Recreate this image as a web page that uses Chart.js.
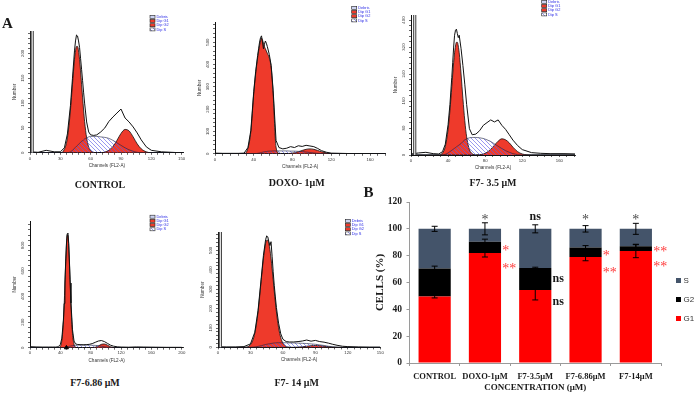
<!DOCTYPE html>
<html>
<head>
<meta charset="utf-8">
<script src="https://cdn.jsdelivr.net/npm/chart.js@4.4.0/dist/chart.umd.min.js"></script>
<style>
html,body{margin:0;padding:0;background:#fff;}
#fig{position:relative;width:694px;height:395px;overflow:hidden;background:#fff;}
#fig canvas{position:absolute;}
.t{position:absolute;font-family:"Liberation Serif","Times New Roman",serif;font-weight:bold;color:#1a1a1a;white-space:nowrap;transform:translate(-50%,-50%);line-height:1;}
.sq{position:absolute;width:5px;height:5px;}
.lt{position:absolute;font-family:"Liberation Sans",Arial,sans-serif;font-size:8px;color:#333;line-height:1;white-space:nowrap;transform:translateY(-50%);}
</style>
</head>
<body>
<div id="fig">
  <canvas id="h1"></canvas>
  <canvas id="h2"></canvas>
  <canvas id="h3"></canvas>
  <canvas id="h4"></canvas>
  <canvas id="h5"></canvas>
  <canvas id="bars" width="334" height="210" style="left:360px;top:185px"></canvas>

  <div class="t" style="left:7.5px;top:23.3px;font-size:15px">A</div>
  <div class="t" style="left:368.5px;top:192px;font-size:15px">B</div>
  <div class="t" style="left:100px;top:185px;font-size:10px">CONTROL</div>
  <div class="t" style="left:296.7px;top:183px;font-size:10px">DOXO- 1μM</div>
  <div class="t" style="left:493px;top:183px;font-size:10px">F7- 3.5 μM</div>
  <div class="t" style="left:95px;top:382.7px;font-size:10px">F7-6.86 μM</div>
  <div class="t" style="left:296.7px;top:382.7px;font-size:10px">F7- 14 μM</div>

  <div class="sq" style="left:676px;top:278px;background:#44546a"></div><div class="lt" style="left:683.5px;top:281px">S</div>
  <div class="sq" style="left:676px;top:297px;background:#000"></div><div class="lt" style="left:683.5px;top:300px">G2</div>
  <div class="sq" style="left:676px;top:315.5px;background:#ff0000"></div><div class="lt" style="left:683.5px;top:318.5px">G1</div>
</div>
<script>
// ---------------- Panel B data (cell-cycle %) ----------------
const categories = ['CONTROL', 'DOXO-1μM', 'F7-3.5μM', 'F7-6.86μM', 'F7-14μM'];
const g1Pct  = [49.5, 82, 54.5, 79, 83.5];
const g2Pct  = [21, 8.3, 16.4, 7, 3.5];
const sPct   = [29.5, 9.7, 29.1, 14, 13];
const errG1  = [1, 3, 7.5, 2.8, 5];
const errG2  = [1.7, 2, 0.5, 1.5, 1.2];
const errS   = [1.9, 4.5, 3, 2.4, 4.1];
const sigTop = ['', '*', 'ns', '*', '*'];
const sigG2  = ['', '*', 'ns', '*', '**'];
const sigG1  = ['', '**', 'ns', '**', '**'];
const yTicksB = [0, 20, 40, 60, 80, 100, 120];

// ---------------- Panel A data (DNA histograms, counts per channel) ----------------
const channels = [0,8,16,24,30,34,37,40,42,44,45,46,47,48,49,50,51,52,53,54,56,58,60,63,66,70,74,78,82,86,90,94,98,102,106,110,115,120,130,140,150,165,180,200];

const ctrlTotal = [2,1,5,2,2, 10,38,95,150,205, 225,237,235,225,212, 190,168,145,122,100, 62,42,36,35,36, 42,50,63,72,80, 88,70,62,52,40, 26,12,5,2,1, 0,0,0,0];
const ctrlG1    = [0,0,0,0,0, 7,30,86,138,188, 205,214,214,205,188, 165,138,112,86,63, 30,12,4,1,0, 0,0,0,0,0, 0,0,0,0,0, 0,0,0,0,0, 0,0,0,0];
const ctrlG2    = [0,0,0,0,0, 0,0,0,0,0, 0,0,0,0,0, 0,0,0,0,0, 0,0,0,0,0, 0,1.5,5,12.5,25, 39,47,44,32,18, 8,2,0,0,0, 0,0,0,0];
const ctrlS     = [0,0,0,0,0, 0,0,2,5,9, 11,13,15,17,19, 21,23,24,26,28, 30,32,33,33,33, 32,31,29,25,20, 15,10,6,3,1, 0,0,0,0,0, 0,0,0,0];

const doxoTotal = [3,2,2,2,3, 28,105,280,370,440, 470,500,520,528,500, 470,490,505,495,480, 445,395,285,60,28, 22,25,32,28,36, 33,38,35,32,24, 14,7,3,2,1, 1,1,0,0];
const doxoG1    = [0,0,0,0,0, 25,100,270,360,430, 460,485,505,518,510, 495,480,470,460,450, 430,385,270,30,2, 0,0,0,0,0, 0,0,0,0,0, 0,0,0,0,0, 0,0,0,0];
const doxoG2    = [0,0,0,0,0, 0,0,0,0,0, 0,0,0,0,0, 0,0,0,0,0, 0,0,0,0,0, 0,0.6,2,4.5,9, 15,20,22,20,15, 9,4,1,0,0, 0,0,0,0];
const doxoS     = [0,0,0,0,0, 0,0,0,1,2, 3,4,5,6,7, 8,9,10,10,11, 12,12,13,13,13, 13,13,12,12,11, 10,8,6,4,2, 1,0,0,0,0, 0,0,0,0];

const f35Total  = [3,6,8,4,3, 10,32,90,150,230, 275,320,355,370,373, 360,348,355,335,315, 265,210,150,78,60, 62,72,88,96,104, 98,104,88,76,60, 44,28,16,7,5, 4,4,3,3];
const f35G1     = [0,0,0,0,0, 6,25,76,132,203, 240,274,303,323,334, 334,323,303,274,240, 167,102,54,16,4, 0,0,0,0,0, 0,0,0,0,0, 0,0,0,0,0, 0,0,0,0];
const f35G2     = [0,0,0,0,0, 0,0,0,0,0, 0,0,0,0,0, 0,0,0,0,0, 0,0,0,0,0, 0.3,1,3,8,17, 29,41,48,45,36, 23,10,3,0,0, 0,0,0,0];
const f35S      = [0,0,0,0,0, 0,2,6,10,14, 16,18,20,22,24, 26,28,30,32,34, 40,45,48,51,52, 52,51,49,45,40, 33,26,19,13,8, 4,1,0,0,0, 0,0,0,0];

const f686Total = [8,6,5,5,5, 5,7,25,75,215, 345,505,670,810,890, 895,815,670,505,350, 140,52,30,25,24, 23,24,26,32,42, 52,56,48,34,20, 12,7,5,4,6, 5,4,3,3];
const f686G1    = [0,0,0,0,0, 0,0,11,58,203, 331,490,656,797,879, 879,797,656,490,331, 113,26,4,0,0, 0,0,0,0,0, 0,0,0,0,0, 0,0,0,0,0, 0,0,0,0];
const f686G2    = [0,0,0,0,0, 0,0,0,0,0, 0,0,0,0,0, 0,0,0,0,0, 0,0,0,0,0, 0,0,0,0.7,4, 13,26,29,20,8, 2,0,0,0,0, 0,0,0,0];
const f686S     = [0,0,0,0,0, 0,0,0,0,0, 1,2,3,5,6, 8,9,11,12,14, 16,18,19,20,20, 20,20,20,19,18, 16,12,8,4,1, 0,0,0,0,0, 0,0,0,0];

const f14Total  = [3,2,2,4,18, 78,190,360,475,555, 575,570,545,525,545, 470,390,320,260,205, 125,70,42,30,28, 28,30,33,38,32, 36,30,27,22,16, 11,6,4,2,1, 1,0,0,0];
const f14G1     = [0,0,0,0.5,14, 73,183,349,460,536, 553,553,536,504,460, 406,349,290,234,183, 102,50,22,5,1, 0,0,0,0,0, 0,0,0,0,0, 0,0,0,0,0, 0,0,0,0];
const f14G2     = [0,0,0,0,0, 0,0,0,0,0, 0,0,0,0,0, 0,0,0,0,0, 0,0,0,0,0, 0,1.4,3.2,6,8.8, 10,8.8,6,3.2,1.4, 0.4,0,0,0,0, 0,0,0,0];
const f14S      = [0,0,0,0,0, 2,5,9,12,15, 16,17,18,19,20, 21,22,23,23,24, 24,24,24,24,23, 23,22,21,20,18, 16,13,10,6,3, 1,0,0,0,0, 0,0,0,0];

const gateCh   = [2.2, null, 4, null, 2.2];
const markerCh = [null, null, null, 48, null];
const legendNames = ['Debris', 'Dip G1', 'Dip G2', 'Dip S'];

// ---------------- styling ----------------
const SERIF = '"Liberation Serif","Times New Roman",serif';
const SANS = '"Liberation Sans",Arial,sans-serif';
const HRED = '#ee3a2b';
Chart.defaults.font.family = SANS;
Chart.defaults.color = '#333';

function hatchPattern(){
  const c = document.createElement('canvas'); c.width = 4; c.height = 4;
  const g = c.getContext('2d');
  g.strokeStyle = 'rgba(95,95,230,0.85)'; g.lineWidth = 0.75;
  g.beginPath();
  g.moveTo(0,0); g.lineTo(4,4);
  g.moveTo(-1,3); g.lineTo(1,5);
  g.moveTo(3,-1); g.lineTo(5,1);
  g.stroke();
  return g.createPattern(c, 'repeat');
}
const HATCH = hatchPattern();

const histLegend = {
  id: 'histLegend',
  afterDraw(chart, args, o){
    const ctx = chart.ctx;
    ctx.save();
    ctx.font = '3.9px ' + SANS;
    ctx.textBaseline = 'middle';
    const fills = ['#cdd3f2', HRED, HRED, HATCH];
    legendNames.forEach((name, k) => {
      const yy = o.y + k * 4.2;
      ctx.fillStyle = '#fff'; ctx.fillRect(o.x, yy, 5, 3);
      ctx.fillStyle = fills[k]; ctx.fillRect(o.x, yy, 5, 3);
      ctx.strokeStyle = '#222'; ctx.lineWidth = 0.6; ctx.strokeRect(o.x, yy, 5, 3);
      ctx.fillStyle = '#2a2ae6';
      ctx.fillText(name, o.x + 6.5, yy + 1.6);
    });
    ctx.restore();
  }
};

const panels = [
  {id:'h1', area:{l:30, t:30.9, r:183.7, b:152.7}, xMax:152, yMax:245, xMajor:30, xMinor:6, yMajor:50, yMinor:10,
   total:ctrlTotal, g1:ctrlG1, g2:ctrlG2, s:ctrlS, gate:gateCh[0], mark:markerCh[0], legend:{x:150, y:15.2}},
  {id:'h2', area:{l:215, t:21.5, r:385.5, b:153.3}, xMax:176, yMax:590, xMajor:40, xMinor:8, yMajor:100, yMinor:20,
   total:doxoTotal, g1:doxoG1, g2:doxoG2, s:doxoS, gate:gateCh[1], mark:markerCh[1], legend:{x:351.7, y:5.8}},
  {id:'h3', area:{l:411, t:15, r:575.1, b:155}, xMax:177, yMax:415, xMajor:40, xMinor:8, yMajor:80, yMinor:16,
   total:f35Total, g1:f35G1, g2:f35G2, s:f35S, gate:gateCh[2], mark:markerCh[2], legend:{x:541.7, y:0.3}},
  {id:'h4', area:{l:30, t:221, r:183.3, b:347.7}, xMax:202, yMax:990, xMajor:40, xMinor:8, yMajor:200, yMinor:40,
   total:f686Total, g1:f686G1, g2:f686G2, s:f686S, gate:gateCh[3], mark:markerCh[3], legend:{x:150, y:215.2}},
  {id:'h5', area:{l:217.7, t:231.9, r:380, b:347.3}, xMax:150, yMax:595, xMajor:30, xMinor:6, yMajor:100, yMinor:20,
   total:f14Total, g1:f14G1, g2:f14G2, s:f14S, gate:gateCh[4], mark:markerCh[4], legend:{x:345, y:219.2}}
];

function makeHist(p){
  const cv = document.getElementById(p.id);
  const left = Math.max(0, p.area.l - 30);
  const top = Math.max(0, p.area.t - 16);
  const W = Math.round(p.area.r + 8 - left);
  const H = Math.round(p.area.b + 18 - top);
  cv.width = W; cv.height = H;
  cv.style.left = left + 'px'; cv.style.top = top + 'px';
  const padTop = p.area.t - top;
  const padRight = W - (p.area.r - left);
  const yW = p.area.l - left;
  const xH = H - (p.area.b - top);
  const pts = arr => channels.map((c, i) => ({x: c, y: arr[i]}));
  const isMajor = (v, m) => Math.abs(v / m - Math.round(v / m)) < 1e-6;

  const ds = [
    {label:'data', data:pts(p.total), borderColor:'#111', borderWidth:1, fill:false, pointRadius:0, tension:0, order:0},
    {label:'Dip S', data:pts(p.s), borderColor:'#1d2240', borderWidth:0.6, backgroundColor:HATCH, fill:'origin', pointRadius:0, cubicInterpolationMode:'monotone', order:1},
    {label:'Dip G2', data:pts(p.g2), borderColor:'#111', borderWidth:0.8, backgroundColor:HRED, fill:'origin', pointRadius:0, cubicInterpolationMode:'monotone', order:2},
    {label:'Dip G1', data:pts(p.g1), borderColor:'#111', borderWidth:0.8, backgroundColor:HRED, fill:'origin', pointRadius:0, cubicInterpolationMode:'monotone', order:3}
  ];
  if (p.gate !== null) {
    ds.push({label:'gate', data:[{x:p.gate, y:0}, {x:p.gate, y:p.yMax}], borderColor:'#444', borderWidth:3.2, pointRadius:0, fill:false, order:-1});
    ds.push({label:'gate2', data:[{x:p.gate, y:0}, {x:p.gate, y:p.yMax}], borderColor:'#e6e6e6', borderWidth:1.2, pointRadius:0, fill:false, order:-2});
  }
  if (p.mark !== null) {
    ds.push({label:'peak', data:[{x:p.mark, y:0}], showLine:false, pointStyle:'triangle', pointRadius:2.3, backgroundColor:'#000', borderColor:'#000', clip:false, order:-3});
  }

  new Chart(cv, {
    type:'line',
    data:{datasets:ds},
    options:{
      responsive:false, animation:false, devicePixelRatio:1,
      layout:{autoPadding:false, padding:{top:padTop, right:padRight, left:0, bottom:0}},
      plugins:{legend:{display:false}, tooltip:{enabled:false}, histLegend:{x:p.legend.x - left, y:p.legend.y - top}},
      scales:{
        x:{type:'linear', min:0, max:p.xMax,
           afterFit(s){ s.height = xH; },
           ticks:{stepSize:p.xMinor, autoSkip:false, includeBounds:false, maxRotation:0, minRotation:0, padding:1,
                  font:{size:4.3}, color:'#333', callback:v => isMajor(v, p.xMajor) ? v : ''},
           grid:{drawOnChartArea:false, drawTicks:true, tickLength:2, color:'#222', lineWidth:0.7},
           border:{display:true, color:'#111', width:1},
           title:{display:true, text:'Channels (FL2-A)', font:{size:4.6}, color:'#333', padding:{top:0, bottom:18 - 12.3 - 2.76}}},
        y:{type:'linear', min:0, max:p.yMax,
           afterFit(s){ s.width = yW; },
           ticks:{stepSize:p.yMinor, autoSkip:false, includeBounds:false, minRotation:90, maxRotation:90, crossAlign:'center', padding:2,
                  font:{size:4.3}, color:'#333', callback:v => isMajor(v, p.yMajor) ? v : ''},
           grid:{drawOnChartArea:false, drawTicks:true, tickLength:2, color:'#222', lineWidth:0.7},
           border:{display:true, color:'#111', width:1},
           title:{display:true, text:'Number', font:{size:4.6}, color:'#333', padding:{top:yW - 15 - 2.76, bottom:0}}}
      }
    },
    plugins:[histLegend]
  });
}
panels.forEach(makeHist);

// ---------------- Panel B chart ----------------
const barExtras = {
  id:'barExtras',
  afterDatasetsDraw(chart){
    const {ctx, scales:{y}} = chart;
    const meta = chart.getDatasetMeta(0);
    ctx.save();
    ctx.strokeStyle = '#000'; ctx.lineWidth = 1;
    categories.forEach((c, i) => {
      const bx = meta.data[i].x;
      const tops = [g1Pct[i], g1Pct[i] + g2Pct[i], g1Pct[i] + g2Pct[i] + sPct[i]];
      const errs = [errG1[i], errG2[i], errS[i]];
      tops.forEach((t, k) => {
        const yHi = y.getPixelForValue(t + errs[k]);
        const yLo = y.getPixelForValue(t - errs[k]);
        ctx.beginPath();
        ctx.moveTo(bx, yHi); ctx.lineTo(bx, yLo);
        ctx.moveTo(bx - 3, yHi); ctx.lineTo(bx + 3, yHi);
        ctx.moveTo(bx - 3, yLo); ctx.lineTo(bx + 3, yLo);
        ctx.stroke();
      });
    });
    ctx.restore();
  },
  afterDraw(chart){
    const {ctx, scales:{y}} = chart;
    const meta = chart.getDatasetMeta(0);
    ctx.save();
    const drawSig = (txt, x, yc, align, starColor) => {
      if (!txt) return;
      ctx.textAlign = align;
      if (txt.indexOf('*') >= 0) {
        ctx.font = '14px ' + SERIF;
        ctx.fillStyle = starColor;
        ctx.textBaseline = 'alphabetic';
        ctx.fillText(txt, x, yc + 7.6);
      } else {
        ctx.font = 'bold 12px ' + SERIF;
        ctx.fillStyle = '#1a1a1a';
        ctx.textBaseline = 'middle';
        ctx.fillText(txt, x, yc);
      }
    };
    categories.forEach((c, i) => {
      const el = meta.data[i];
      const bx = el.x, right = el.x + el.width / 2 + 1.2;
      drawSig(sigTop[i], bx, y.getPixelForValue(100) - 12, 'center', '#4a4a4a');
      drawSig(sigG2[i], right, y.getPixelForValue(g1Pct[i] + g2Pct[i] / 2), 'left', '#ff3b3b');
      drawSig(sigG1[i], right, y.getPixelForValue(g1Pct[i]) + 12, 'left', '#ff3b3b');
    });
    ctx.restore();
  }
};

new Chart(document.getElementById('bars'), {
  type:'bar',
  data:{
    labels:categories,
    datasets:[
      {label:'G1', data:g1Pct, backgroundColor:'#ff0000'},
      {label:'G2', data:g2Pct, backgroundColor:'#000000'},
      {label:'S',  data:sPct,  backgroundColor:'#44546a'}
    ]
  },
  options:{
    responsive:false, animation:false, devicePixelRatio:1,
    layout:{autoPadding:false, padding:{top:17, right:33, left:0, bottom:0}},
    datasets:{bar:{categoryPercentage:1, barPercentage:0.64}},
    plugins:{legend:{display:false}, tooltip:{enabled:false}},
    scales:{
      x:{stacked:true,
         afterFit(s){ s.height = 32; },
         ticks:{autoSkip:false, maxRotation:0, minRotation:0, padding:5.5, color:'#1a1a1a', font:{family:SERIF, weight:'bold', size:8.5}},
         grid:{drawOnChartArea:false, drawTicks:true, tickLength:3, color:'#9a9a9a', offset:true},
         border:{display:true, color:'#9a9a9a'},
         title:{display:true, text:'CONCENTRATION (μM)', color:'#1a1a1a', font:{family:SERIF, weight:'bold', size:9}, padding:{top:0, bottom:1.6}}},
      y:{stacked:true, min:0, max:120,
         afterBuildTicks(s){ s.ticks = yTicksB.map(v => ({value:v})); },
         afterFit(s){ s.width = 49.5; },
         ticks:{padding:4.5, color:'#1a1a1a', font:{family:SERIF, weight:'bold', size:9.5}},
         grid:{drawOnChartArea:false, drawTicks:true, tickLength:3, color:'#9a9a9a'},
         border:{display:true, color:'#9a9a9a'},
         title:{display:true, text:'CELLS (%)', color:'#1a1a1a', font:{family:SERIF, weight:'bold', size:11}, padding:{top:13.4, bottom:0}}}
    }
  },
  plugins:[barExtras]
});
</script>
</body>
</html>
